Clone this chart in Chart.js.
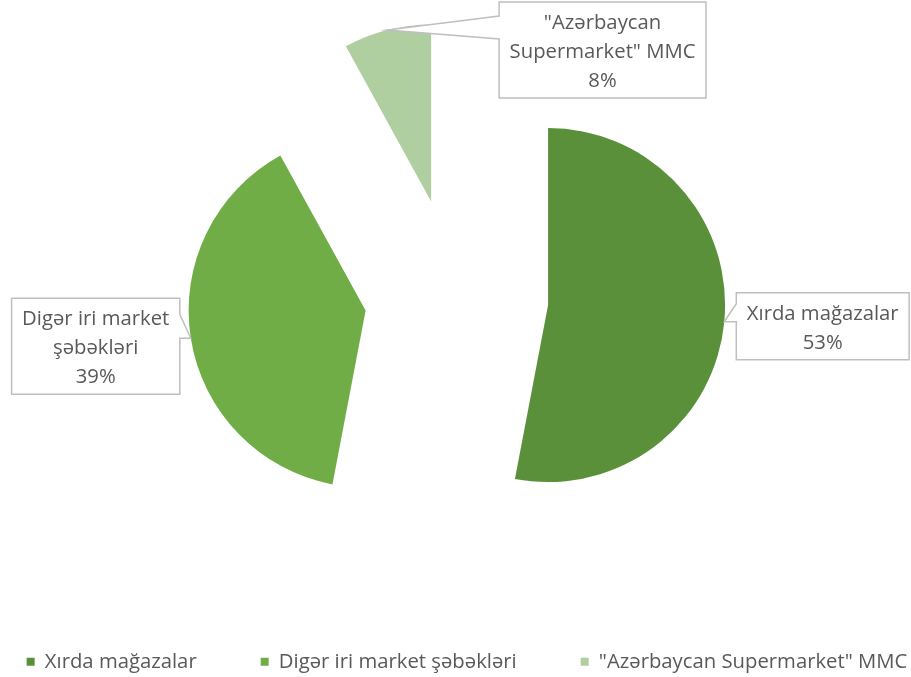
<!DOCTYPE html>
<html>
<head>
<meta charset="utf-8">
<script src="https://cdn.jsdelivr.net/npm/chart.js@4"></script>
<style>
  html, body { margin: 0; padding: 0; background: #fff; }
  #wrap { width: 911px; height: 677px; }
</style>
</head>
<body>
<div id="wrap"><canvas id="shareChart"></canvas></div>
<script>
// Market share data
const categories = ["Xırda mağazalar", "Digər iri market şəbəkləri", "\"Azərbaycan Supermarket\" MMC"];
const shares = [53, 39, 8];

const sliceColors = ["#5B903A", "#70AD47", "#B0CFA0"];
const explode = [93, 91, 98]; // how far each slice is pulled out (px)

// callout boxes, placed relative to the slice tip
const callouts = [
  { side: "right", dx: 12, dy: -29, base: [-18, 0] },
  { side: "left", dx: 11, dy: -40, base: [-24, 0] },
  { side: "right", dx: 112, dy: -28, base: [-14, 9] }
];

const FONT = "'Open Sans', 'Noto Sans', sans-serif";
const TEXT = "#595959";

// size the font so text widths come out like the original
const probe = document.createElement("canvas").getContext("2d");
probe.font = "100px " + FONT;
const fontSize = Math.round(152 / probe.measureText("Xırda mağazalar").width * 1000) / 10;

function wrap(ctx, text, maxW) {
  const words = text.split(" ");
  const lines = [];
  let line = words[0];
  for (const w of words.slice(1)) {
    if (ctx.measureText(line + " " + w).width > maxW) {
      lines.push(line);
      line = w;
    } else {
      line += " " + w;
    }
  }
  lines.push(line);
  return lines;
}

// pull slices away from the centre along their mid angle
const explodePlugin = {
  id: "explode",
  afterUpdate(chart) {
    const area = chart.chartArea;
    const cx = (area.left + area.right) / 2;
    const cy = (area.top + area.bottom) / 2;
    chart.getDatasetMeta(0).data.forEach((arc, i) => {
      const mid = (arc.startAngle + arc.endAngle) / 2;
      arc.x = cx + Math.cos(mid) * explode[i];
      arc.y = cy + Math.sin(mid) * explode[i];
    });
  }
};

// nudge the legend a bit to the right like the original
const legendShift = {
  id: "legendShift",
  afterLayout(chart) {
    chart.legend.left += 11;
    chart.legend.right += 11;
  }
};

// Excel-style callout labels
const calloutPlugin = {
  id: "callouts",
  afterDatasetsDraw(chart) {
    const ctx = chart.ctx;
    const total = shares.reduce((a, b) => a + b, 0);
    ctx.save();
    ctx.font = fontSize + "px " + FONT;
    chart.getDatasetMeta(0).data.forEach((arc, i) => {
      const c = callouts[i];
      const mid = (arc.startAngle + arc.endAngle) / 2;
      const tipX = arc.x + Math.cos(mid) * arc.outerRadius;
      const tipY = arc.y + Math.sin(mid) * arc.outerRadius;

      const lines = wrap(ctx, categories[i], 220);
      lines.push(Math.round(shares[i] / total * 100) + "%");
      const w = Math.max(...lines.map(l => ctx.measureText(l).width)) + 21;
      const h = lines.length * 29 + 9;
      const left = c.side === "right" ? tipX + c.dx : tipX - c.dx - w;
      const top = tipY + c.dy;

      ctx.beginPath();
      if (c.side === "right") {
        ctx.moveTo(left, top);
        ctx.lineTo(left + w, top);
        ctx.lineTo(left + w, top + h);
        ctx.lineTo(left, top + h);
        ctx.lineTo(left, tipY + c.base[1]);
        ctx.lineTo(tipX, tipY);
        ctx.lineTo(left, tipY + c.base[0]);
      } else {
        ctx.moveTo(left, top);
        ctx.lineTo(left + w, top);
        ctx.lineTo(left + w, tipY + c.base[0]);
        ctx.lineTo(tipX, tipY);
        ctx.lineTo(left + w, tipY + c.base[1]);
        ctx.lineTo(left + w, top + h);
        ctx.lineTo(left, top + h);
      }
      ctx.closePath();
      ctx.fillStyle = "#fff";
      ctx.fill();
      ctx.lineWidth = 1.5;
      ctx.strokeStyle = "#BFBFBF";
      ctx.stroke();

      ctx.fillStyle = TEXT;
      ctx.textAlign = "center";
      ctx.textBaseline = "alphabetic";
      lines.forEach((l, k) => ctx.fillText(l, left + w / 2, top + 27 + k * 29));
    });
    ctx.restore();
  }
};

new Chart(document.getElementById("shareChart"), {
  type: "pie",
  data: {
    labels: categories,
    datasets: [{
      data: shares,
      backgroundColor: sliceColors,
      borderWidth: 0
    }]
  },
  options: {
    responsive: true,
    maintainAspectRatio: false,
    animation: false,
    radius: 177,
    layout: { padding: { left: -60, right: -61, top: 5, bottom: -5 } },
    plugins: {
      tooltip: { enabled: false },
      legend: {
        position: "bottom",
        labels: {
          boxWidth: 8,
          boxHeight: 8,
          padding: 64,
          color: TEXT,
          font: { family: FONT, size: fontSize }
        }
      }
    }
  },
  plugins: [explodePlugin, legendShift, calloutPlugin]
});
</script>
</body>
</html>
